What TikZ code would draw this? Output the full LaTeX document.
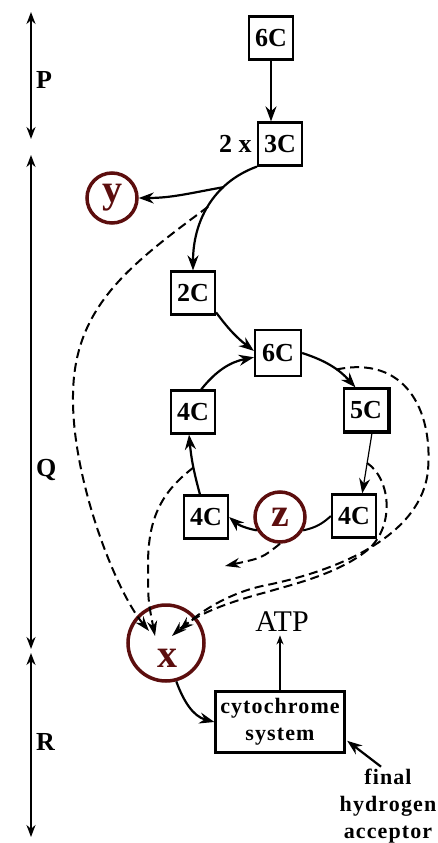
\documentclass[tikz,border=0pt]{standalone}
\usepackage{fontspec}
\setmainfont{Liberation Serif}
\newfontfamily\widefont[LetterSpace=5]{Liberation Serif}
\usetikzlibrary{positioning,arrows.meta,calc}
\definecolor{blood}{RGB}{92,14,14}

\begin{document}
\begin{tikzpicture}[x=1pt,y=1pt,
  box/.style={draw,line width=2.2pt,minimum width=44pt,minimum height=43pt,inner sep=0pt,font=\fontsize{26}{26}\selectfont\bfseries},
  carrier/.style={circle,draw=blood,line width=3.5pt,minimum size=50pt,inner sep=0pt,text=blood,font=\fontsize{40}{40}\selectfont\bfseries},
  lab/.style={inner sep=2pt,font=\fontsize{26}{26}\selectfont\bfseries},
  flow/.style={-{Stealth[length=15pt,width=11pt]},line width=2.2pt},
  hyd/.style={-{Stealth[length=15pt,width=10pt]},line width=2pt,dash pattern=on 9pt off 5pt},
  span/.style={{Stealth[length=12pt,width=9pt]}-{Stealth[length=12pt,width=9pt]},line width=2.8pt}]
\useasboundingbox (0,0) rectangle (438,-843);

% stages down the left side
\coordinate (p0) at (31,-12);
\coordinate (p1) at (31,-139);
\coordinate (q0) at (31,-155);
\coordinate (q1) at (31,-649);
\coordinate (r0) at (31,-653);
\coordinate (r1) at (31,-837);
\draw[span] (p0) -- (p1);
\draw[span] (q0) -- (q1);
\draw[span] (r0) -- (r1);
\node[lab,anchor=west] (P) at (34,-80) {P};
\node[lab,anchor=west] (Q) at (34,-470) {Q};
\node[lab,anchor=west] (R) at (34,-742) {R};

% carbon skeletons
\node[box] (c6top) at (271,-38) {6C};
\node[box] (c3) at (280,-144) {3C};
\node[lab,left=3pt of c3] (twox) {2 x};
\node[box] (c2) at (193,-293) {2C};
\node[box,minimum size=46pt] (c6) at (278,-353) {6C};
\node[box] (c5) at (366,-410) {5C};
\node[box] (c4a) at (193,-412) {4C};
\node[box] (c4b) at (206,-517) {4C};
\node[box] (c4c) at (354,-516) {4C};
\draw[line width=3.5pt] (c5.north east) -- (c5.south east) -- (c5.south west);

% carriers
\node[carrier] (Y) at (112,-198) {y};
\node[carrier] (Z) at (280,-517) {z};
\node[carrier,minimum size=76pt] (X) at (166,-643) {};
\node[carrier,draw=none] (xl) at (167,-658) {x};

% respiratory chain
\node[draw,line width=2.2pt,minimum width=129pt,minimum height=61pt,align=center,
  font=\fontsize{22}{27}\selectfont\widefont\bfseries] (cyto) at (280,-722) {cytochrome\\system};
\node[font=\fontsize{30}{30}\selectfont] (ATP) at (282,-622) {ATP};
\node[align=center,inner sep=2pt,font=\fontsize{22}{27}\selectfont\widefont\bfseries] (acc) at (388,-806) {final\\hydrogen\\acceptor};

% glycolysis
\draw[flow] (c6top.south) -- (c6top.south |- c3.north);
\draw[flow] (c3.south west) to[out=200,in=90] coordinate[pos=0.3] (fork) coordinate[pos=0.5] (split) (c2.north);
\draw[flow] (fork) to[out=190,in=0] (Y);

% the cycle
\draw[flow] (c2.-40) to[bend right=8] (c6.175);
\draw[flow] (c6.east) to[bend left=15] coordinate[pos=0.6] (rs1) (c5.115);
\draw[-{Stealth[length=15pt,width=11pt]},line width=1.2pt] (c5.-75) -- coordinate[pos=0.5] (rs2) (c4c.70);
\draw[line width=2pt] (c4c.west) to[bend left=15] (Z.-30);
\draw[flow] (Z.-150) to[bend left=15] (c4b.east);
\draw[flow] (c4b.105) to[bend left=5] coordinate[pos=0.45] (ls) (c4a.-100);
\draw[flow] (c4a.70) to[bend left=20] (c6.190);

% hydrogen to x
\draw[hyd] (split) .. controls (125,-268) and (72,-310) .. (73,-400)
  .. controls (73,-480) and (115,-590) .. ($(X)+(-17,12)$);
\draw[hyd] (ls) .. controls (160,-493) and (148,-520) .. (148,-565)
  .. controls (148,-600) .. ($(X)+(-11,7)$);
\draw[hyd] (rs1) .. controls (405,-355) and (433,-410) .. (428,-470)
  .. controls (422,-535) and (340,-570) .. (267,-585)
  .. controls (230,-592) and (200,-612) .. ($(X)+(13,12)$);
\draw[hyd] (rs2) .. controls (392,-480) and (395,-530) .. (365,-552)
  .. controls (335,-575) and (290,-585) .. (267,-592)
  .. controls (225,-603) and (195,-615) .. ($(X)+(6,7)$);
\coordinate (zend) at (225,-566);
\draw[hyd] (Z.south) .. controls (262,-558) .. (zend);

% into the chain
\draw[flow] (X.-75) to[out=-70,in=165] (cyto.west);
\draw[-{Stealth[length=9pt,width=7pt]},line width=1.2pt] (cyto.north) -- (cyto.north |- ATP.south);
\draw[flow,shorten >=2pt] (acc.100) -- (cyto.-15);
\end{tikzpicture}
\end{document}
